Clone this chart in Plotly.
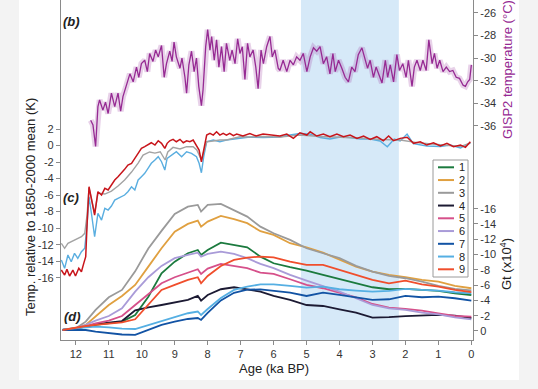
import plotly.graph_objects as go

# ---------------- data ----------------
# (b) GISP2 temperature (deg C) vs age (ka BP)
gisp2_age = [11.55, 11.48, 11.40, 11.33, 11.28, 11.18, 11.10, 11.02, 10.92, 10.82,
             10.72, 10.64, 10.57, 10.47, 10.36, 10.26, 10.16, 10.09, 10.01, 9.91,
             9.83, 9.76, 9.66, 9.58, 9.50, 9.40, 9.32, 9.25, 9.15, 9.08,
             9.02, 8.95, 8.84, 8.78, 8.69, 8.64, 8.57, 8.49, 8.41, 8.34,
             8.27, 8.19, 8.14, 8.06, 8.00, 7.93, 7.88, 7.80, 7.73, 7.66,
             7.58, 7.50, 7.43, 7.33, 7.26, 7.17, 7.09, 7.02, 6.95, 6.87,
             6.79, 6.72, 6.62, 6.54, 6.47, 6.38, 6.31, 6.21, 6.11, 6.04,
             5.96, 5.86, 5.81, 5.71, 5.60, 5.50, 5.40, 5.30, 5.20, 5.10,
             4.99, 4.89, 4.79, 4.69, 4.59, 4.49, 4.39, 4.29, 4.20, 4.13,
             4.03, 3.93, 3.83, 3.73, 3.63, 3.53, 3.43, 3.32, 3.22, 3.15,
             3.07, 2.97, 2.89, 2.82, 2.71, 2.61, 2.54, 2.46, 2.36, 2.26,
             2.18, 2.08, 1.98, 1.91, 1.80, 1.73, 1.65, 1.55, 1.47, 1.37,
             1.29, 1.19, 1.12, 1.04, 0.96, 0.86, 0.76, 0.66, 0.56, 0.46,
             0.36, 0.25, 0.18, 0.11, 0.05, 0.0]
gisp2_temp = [-35.5, -35.9, -37.8, -34.3, -33.7, -34.6, -33.9, -34.9, -33.1, -34.3,
              -33.1, -34.7, -33.4, -32.5, -31.4, -32.1, -30.8, -31.7, -30.5, -30.2,
              -31.2, -29.6, -30.3, -29.3, -29.9, -28.9, -31.7, -30.5, -29.4, -30.3,
              -28.6, -29.9, -30.9, -30.0, -31.7, -33.1, -30.6, -29.4, -31.2, -30.0,
              -32.5, -34.2, -32.8, -29.0, -27.5, -29.3, -28.1, -30.2, -28.4, -30.8,
              -29.0, -31.2, -28.7, -30.2, -29.3, -30.5, -28.3, -29.6, -29.0, -31.9,
              -28.7, -29.9, -29.3, -30.8, -32.7, -29.3, -30.5, -29.0, -28.1, -29.9,
              -29.3, -30.9, -31.1, -30.2, -31.2, -30.2, -30.6, -29.9, -30.2, -29.6,
              -31.2, -29.9, -29.1, -29.4, -29.0, -30.5, -29.9, -31.4, -29.6, -31.2,
              -30.2, -30.9, -31.7, -32.1, -30.8, -31.2, -29.7, -29.1, -30.2, -30.9,
              -30.2, -31.7, -30.8, -31.4, -32.2, -30.2, -31.7, -30.6, -32.1, -29.7,
              -31.1, -30.5, -31.7, -30.2, -32.5, -30.8, -30.2, -31.1, -30.2, -31.1,
              -28.4, -30.5, -29.6, -30.9, -30.2, -31.2, -30.8, -31.2, -31.1, -31.7,
              -31.8, -32.4, -32.5, -32.1, -31.9, -30.6]

# (c) temperature relative to 1850-2000 mean (K)
c_red_age = [12.44, 12.34, 12.27, 12.19, 12.09, 12.01, 11.91, 11.83, 11.76, 11.70,
             11.66, 11.60, 11.43, 11.33, 11.22, 11.12, 11.02, 10.92, 10.82, 10.72,
             10.62, 10.52, 10.42, 10.31, 10.21, 10.11, 10.01, 9.91, 9.81, 9.71,
             9.60, 9.50, 9.40, 9.30, 9.23, 9.15, 9.05, 8.95, 8.84, 8.74,
             8.64, 8.54, 8.44, 8.34, 8.26, 8.19, 8.12, 8.03, 7.93, 7.83,
             7.73, 7.63, 7.53, 7.43, 7.33, 7.22, 7.12, 6.93, 6.72, 6.53,
             6.32, 6.11, 5.81, 5.60, 5.40, 5.20, 4.99, 4.89, 4.69, 4.49,
             4.29, 4.08, 3.88, 3.68, 3.47, 3.27, 3.07, 2.87, 2.67, 2.51,
             2.36, 2.16, 1.95, 1.75, 1.55, 1.35, 1.15, 0.94, 0.74, 0.54,
             0.33, 0.18, 0.03]
c_red_temp = [-15.07, -15.68, -14.99, -15.80, -15.07, -15.80, -14.86, -15.28, -14.26, -13.46,
              -9.62, -4.98, -8.41, -5.59, -5.99, -5.18, -5.38, -4.78, -4.17, -3.77,
              -3.36, -2.88, -2.36, -2.15, -1.55, -0.94, -0.34, -0.14, 0.06, 0.34,
              0.06, 0.58, 0.27, -0.34, 0.27, 0.58, 0.75, 0.46, 0.75, 0.34,
              0.58, 0.46, 0.67, 0.06, -0.54, -1.96, -0.54, 1.27, 1.48, 1.27,
              1.67, 1.27, 1.48, 1.27, 1.48, 1.19, 1.39, 1.15, 1.46, 1.15,
              1.39, 1.27, 1.15, 1.39, 0.87, 1.55, 1.27, 1.67, 1.15, 1.39,
              1.07, 1.39, 1.07, 1.27, 0.87, 1.15, 0.75, 1.07, 0.58, 1.15,
              0.58, 0.87, 1.00, 0.27, 0.46, 0.06, 0.34, -0.06, 0.27, -0.14,
              0.06, -0.22, 0.46]

c_gray_age = [12.44, 12.34, 12.24, 12.14, 12.04, 11.94, 11.83, 11.73, 11.66, 11.60,
              11.43, 11.33, 11.12, 10.92, 10.72, 10.52, 10.31, 10.11, 9.96, 9.76,
              9.60, 9.44, 9.29, 9.21, 9.05, 8.84, 8.64, 8.44, 8.33, 8.19,
              8.12, 8.03, 7.83, 7.63, 7.43, 7.22, 7.02, 6.72, 6.32, 5.81,
              5.20, 4.59, 3.98, 3.37, 2.77, 2.16, 1.55, 0.94, 0.33, 0.03]
c_gray_temp = [-11.84, -12.44, -11.84, -11.64, -11.44, -11.23, -11.04, -10.63, -8.41, -5.14,
               -8.2, -5.75, -5.87, -5.51, -4.90, -4.17, -3.21, -2.12, -1.15, -0.78,
               -0.91, -0.75, -1.75, -0.78, -0.22, -0.42, -0.14, -0.14, -0.54, -1.75,
               -0.78, 0.46, 0.55, 0.67, 0.67, 0.85, 1.07, 1.03, 1.09, 1.03,
               1.27, 1.09, 1.03, 0.91, 0.73, 0.67, 0.30, 0.06, -0.12, 0.31]

c_blue_age = [12.44, 12.34, 12.24, 12.14, 12.04, 11.94, 11.83, 11.73, 11.66, 11.60,
              11.52, 11.43, 11.33, 11.22, 11.12, 11.02, 10.92, 10.82, 10.72, 10.62,
              10.52, 10.42, 10.31, 10.21, 10.11, 10.01, 9.91, 9.81, 9.71, 9.60,
              9.50, 9.40, 9.30, 9.23, 9.10, 8.95, 8.79, 8.64, 8.49, 8.34,
              8.26, 8.19, 8.12, 8.03, 7.83, 7.63, 7.43, 7.22, 7.02, 6.72,
              6.32, 5.81, 5.50, 5.20, 4.89, 4.59, 4.29, 3.98, 3.68, 3.37,
              3.07, 2.77, 2.55, 2.34, 2.16, 1.95, 1.76, 1.35, 0.94, 0.64,
              0.33, 0.03]
c_blue_temp = [-13.86, -14.86, -13.25, -14.07, -13.05, -13.65, -12.85, -12.44, -9.62, -6.20,
               -8.41, -11.04, -8.21, -9.02, -7.60, -7.81, -7.32, -6.60, -6.39, -6.20,
               -5.99, -5.59, -4.99, -5.38, -4.17, -3.77, -3.36, -2.76, -2.15, -1.75,
               -1.35, -1.96, -2.96, -1.55, -1.15, -0.75, -1.35, -0.75, -0.94, -1.35,
               -2.15, -3.29, -1.35, 0.46, 0.67, 0.46, 0.67, 0.79, 0.87, 1.03,
               0.97, 1.03, 1.27, 1.46, 1.39, 0.97, 0.79, 1.03, 0.97, 0.79,
               0.79, 0.55, -0.14, 0.79, 0.55, 1.39, 0.24, -0.06, -0.12, 0.06,
               -0.30, 0.31]

# (d) Gt (x10^4), series 1-9
d_age = [12.4, 12.0, 11.7, 11.4, 11.0, 10.6, 10.2, 9.8, 9.4, 9.0,
         8.6, 8.3, 8.2, 8.0, 7.6, 7.2, 6.8, 6.4, 6.0, 5.5,
         5.0, 4.5, 4.0, 3.5, 3.0, 2.5, 2.0, 1.5, 1.0, 0.5,
         0.0]
d_s1 = [-0.13, -0.35, -0.56, -0.79, -1.0, -1.22, -2.09, -4.49, -7.55, -9.07,
        -10.17, -10.60, -9.95, -10.60, -11.56, -11.26, -10.95, -9.73, -8.86, -8.34,
        -7.89, -7.33, -6.77, -6.24, -5.72, -5.46, -5.50, -5.37, -5.24, -4.93,
        -4.71]
d_s2 = [-0.13, -0.35, -0.79, -1.96, -3.40, -4.58, -6.02, -8.42, -10.82, -13.0,
        -14.01, -14.44, -13.65, -14.31, -15.05, -14.62, -14.10, -13.05, -12.57, -11.48,
        -10.95, -10.25, -9.29, -8.42, -7.76, -7.33, -7.03, -6.68, -6.45, -5.89,
        -5.59]
d_s3 = [-0.13, -0.35, -1.22, -2.75, -4.41, -5.37, -7.8, -10.8, -13.1, -15.3,
        -16.27, -16.49, -15.62, -16.49, -16.62, -15.84, -14.96, -13.65, -12.79, -11.91,
        -10.82, -10.17, -9.52, -8.51, -7.76, -7.20, -6.90, -6.45, -5.89, -5.5,
        -5.3]
d_s4 = [-0.13, -0.30, -0.56, -0.87, -1.1, -1.3, -2.7, -3.10, -3.40, -3.71,
        -4.06, -4.58, -3.97, -4.71, -5.46, -5.72, -5.46, -5.14, -4.58, -4.06,
        -3.40, -3.27, -2.84, -2.40, -1.75, -1.80, -1.95, -2.05, -2.10, -2.00,
        -1.70]
d_s5 = [-0.13, -0.35, -0.65, -1.0, -1.35, -1.96, -3.40, -4.84, -6.24, -7.03,
        -7.64, -8.08, -7.46, -8.16, -8.77, -8.51, -8.21, -7.64, -7.46, -6.77,
        -6.02, -5.59, -5.01, -4.41, -3.53, -3.05, -2.88, -2.66, -2.31, -1.96,
        -1.87]
d_s6 = [-0.13, -0.35, -0.79, -1.35, -1.96, -2.97, -5.14, -7.03, -8.51, -9.52,
        -9.95, -10.25, -9.73, -10.08, -10.38, -10.08, -9.52, -8.77, -8.21, -7.33,
        -6.58, -5.89, -5.14, -4.28, -3.40, -2.97, -2.75, -2.40, -2.18, -1.79,
        -1.53]
d_s7 = [-0.13, -0.13, -0.13, 0.07, 0.30, 0.46, 0.52, -0.13, -0.79, -1.22,
        -1.57, -1.70, -1.44, -2.36, -4.0, -5.0, -5.41, -5.43, -5.28, -5.01,
        -4.58, -5.01, -4.71, -4.41, -4.06, -4.15, -4.58, -4.41, -4.49, -4.28,
        -3.97]
d_s8 = [-0.2, -0.33, -0.52, -0.56, -0.46, -0.30, -0.26, -0.79, -1.35, -1.87,
        -2.32, -2.55, -2.09, -2.88, -4.32, -5.37, -5.80, -6.09, -6.11, -5.89,
        -5.67, -5.80, -5.46, -5.28, -5.14, -5.24, -5.50, -5.37, -5.28, -5.07,
        -4.93]
d_s9 = [-0.13, -0.48, -0.65, -0.79, -1.0, -1.13, -1.53, -3.40, -5.37, -6.02,
        -6.68, -7.03, -6.24, -7.20, -8.51, -9.29, -9.60, -9.73, -9.64, -9.07,
        -8.64, -8.64, -7.98, -7.33, -6.68, -6.24, -6.58, -6.11, -5.80, -5.37,
        -5.07]
d_names = ["1", "2", "3", "4", "5", "6", "7", "8", "9"]

# highlighted interval (ka BP)
band_start = 5.17
band_end = 2.2

# ticks
x_ticks = [12, 11, 10, 9, 8, 7, 6, 5, 4, 3, 2, 1, 0]
left_ticks = [2, 0, -2, -4, -6, -8, -10, -12, -14, -16]
gisp2_ticks = [-26, -28, -30, -32, -34, -36]
gt_ticks = [-16, -14, -12, -10, -8, -6, -4, -2, 0]

# ---------------- styling ----------------
W, H = 538, 389
ML, MR, MT, MB = 61, 65, 0, 49
PW, PH = W - ML - MR, H - MT - MB
FONT = "Liberation Sans, Arial, Helvetica, sans-serif"
AXC = "#8a8a8a"
TXT = "#333333"
PURPLE = "#962a93"

d_colors = ["#1b7a3e", "#e0a040", "#9a9a9a", "#1c1a33", "#d6508a",
            "#a99bd8", "#1253a4", "#55afe3", "#f04e2c"]


def fx(px):
    return (px - ML) / PW


def fy(py):
    return (MT + PH - py) / PH


fig = go.Figure()

# GISP2 with uncertainty shading (wide translucent line underneath)
fig.add_trace(go.Scatter(x=gisp2_age, y=gisp2_temp, yaxis="y2", mode="lines",
                         line=dict(color="rgba(165,80,170,0.26)", width=6),
                         hoverinfo="skip", showlegend=False))
fig.add_trace(go.Scatter(x=gisp2_age, y=gisp2_temp, yaxis="y2", mode="lines",
                         line=dict(color=PURPLE, width=1.3), showlegend=False))

# panel (c)
fig.add_trace(go.Scatter(x=c_blue_age, y=c_blue_temp, mode="lines",
                         line=dict(color="#5aaee0", width=1.4), showlegend=False))
fig.add_trace(go.Scatter(x=c_gray_age, y=c_gray_temp, mode="lines",
                         line=dict(color="#a3a3a3", width=1.4), showlegend=False))
fig.add_trace(go.Scatter(x=c_red_age, y=c_red_temp, mode="lines",
                         line=dict(color="#c8151b", width=1.5), showlegend=False))

# panel (d)
d_series = [d_s1, d_s2, d_s3, d_s4, d_s5, d_s6, d_s7, d_s8, d_s9]
for name, vals, col in zip(d_names, d_series, d_colors):
    fig.add_trace(go.Scatter(x=d_age, y=vals, yaxis="y3", mode="lines", name=name,
                             line=dict(color=col, width=1.8), showlegend=False))

axis_common = dict(ticks="outside", ticklen=4, tickwidth=1, tickcolor=AXC,
                   showline=True, linecolor=AXC, linewidth=1.2,
                   showgrid=False, zeroline=False,
                   tickfont=dict(size=11, color=TXT, family=FONT))

fig.update_layout(
    width=W, height=H,
    margin=dict(l=ML, r=MR, t=MT, b=MB),
    paper_bgcolor="#f3f3f3",
    plot_bgcolor="rgba(0,0,0,0)",
    font=dict(family=FONT, color=TXT),
    showlegend=False,
    xaxis=dict(range=[12.45, -0.05], tickvals=x_ticks,
               ticktext=[str(v) for v in x_ticks], **axis_common),
    yaxis=dict(range=[-23.54, 17.62], tickvals=left_ticks,
               ticktext=[str(v) for v in left_ticks], **axis_common),
    yaxis2=dict(range=[-54.89, -24.88], overlaying="y", side="right", anchor="x",
                tickvals=gisp2_ticks, ticktext=[str(v) for v in gisp2_ticks],
                **axis_common),
    yaxis3=dict(range=[1.18, -43.3], overlaying="y", side="right", anchor="x",
                tickvals=gt_ticks, ticktext=[str(v) for v in gt_ticks],
                **axis_common),
)

shapes = [
    # white figure panel
    dict(type="rect", xref="paper", yref="paper", x0=fx(19), x1=fx(519),
         y0=fy(380), y1=1.2, fillcolor="white", line=dict(width=0), layer="below"),
    # highlighted interval
    dict(type="rect", xref="x", yref="paper", x0=band_start, x1=band_end,
         y0=0, y1=1, fillcolor="#d6e9f8", line=dict(width=0), layer="below"),
    # legend box
    dict(type="rect", xref="paper", yref="paper", x0=fx(433), x1=fx(468),
         y0=fy(277), y1=fy(160), fillcolor="white",
         line=dict(color="#9a9a9a", width=1), layer="above"),
]
annotations = []
for i, (name, col) in enumerate(zip(d_names, d_colors)):
    yy = 167.3 + 12.75 * i
    shapes.append(dict(type="line", xref="paper", yref="paper",
                       x0=fx(438), x1=fx(454), y0=fy(yy), y1=fy(yy),
                       line=dict(color=col, width=2), layer="above"))
    annotations.append(dict(xref="paper", yref="paper", x=fx(457), y=fy(yy),
                            text=name, showarrow=False, xanchor="left",
                            yanchor="middle", font=dict(size=11, color="#222")))


def label(px, py, text, size=13, color="#222", angle=0):
    return dict(xref="paper", yref="paper", x=fx(px), y=fy(py), text=text,
                textangle=angle, showarrow=False, xanchor="center",
                yanchor="middle", font=dict(size=size, color=color))


annotations += [
    label(71, 22, "<b><i>(b)</i></b>"),
    label(71, 197.5, "<b><i>(c)</i></b>"),
    label(72, 316, "<b><i>(d)</i></b>"),
    label(30, 207, "Temp. relative to 1850-2000 mean (K)", angle=-90),
    label(507, 70, "GISP2 temperature (°C)", color=PURPLE, angle=-90),
    label(506, 264, "Gt (x10<sup>4</sup>)", angle=-90),
    label(273.5, 368, "Age (ka BP)"),
]

fig.update_layout(shapes=shapes, annotations=annotations)

fig.write_html("out.html", config={"displayModeBar": False},
               post_script="document.body.style.margin='0px';")
